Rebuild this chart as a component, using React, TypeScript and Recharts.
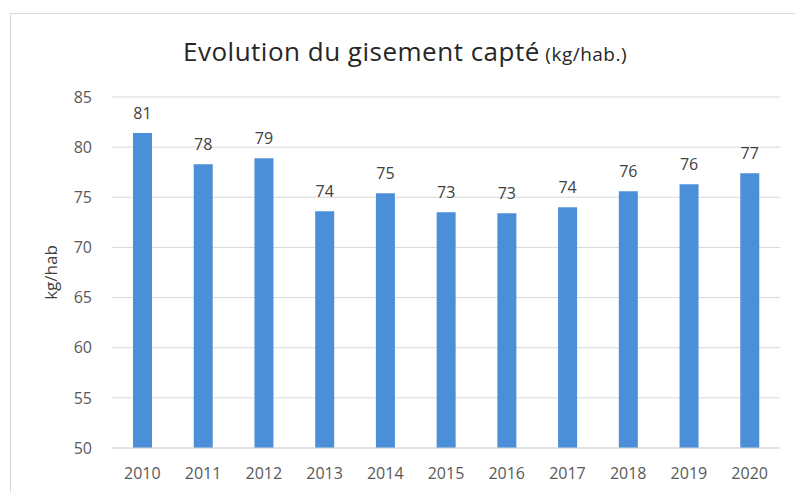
import React from 'react';
import { BarChart, Bar, XAxis, YAxis, CartesianGrid, LabelList } from 'recharts';

const years = ['2010', '2011', '2012', '2013', '2014', '2015', '2016', '2017', '2018', '2019', '2020'];
const values = [81.4, 78.3, 78.9, 73.6, 75.4, 73.5, 73.4, 74.0, 75.6, 76.3, 77.4];
const labels = ['81', '78', '79', '74', '75', '73', '73', '74', '76', '76', '77'];
const yTicks = [50, 55, 60, 65, 70, 75, 80, 85];

const data = years.map((y, i) => ({ year: y, value: values[i], label: labels[i] }));

const FONT = '"Open Sans", "Noto Sans", sans-serif';

export default function App() {
  return (
    <div style={{ position: 'absolute', left: 0, top: 0, width: 795, height: 492, background: '#fff', overflow: 'hidden', fontFamily: FONT }}>
      <div style={{ position: 'absolute', left: 10, top: 13, width: 800, height: 500, borderTop: '1px solid #d9d9d9', borderLeft: '1px solid #d9d9d9' }} />
      <div style={{ position: 'absolute', left: 183, top: 51, color: '#262626', whiteSpace: 'nowrap', lineHeight: 0 }}>
        <span style={{ fontSize: 26, letterSpacing: 0.5 }}>Evolution du gisement capté</span>
        <span style={{ fontSize: 19, letterSpacing: 0.5 }}> (kg/hab.)</span>
      </div>
      <div style={{ position: 'absolute', left: 0, top: 0 }}>
        <BarChart width={795} height={492} data={data} margin={{ top: 97, right: 15, left: 0, bottom: 14 }}>
          <CartesianGrid vertical={false} stroke="#d9d9d9" strokeWidth={1} />
          <XAxis dataKey="year" axisLine={{ stroke: '#d9d9d9' }} tickLine={false} tickMargin={14} height={30}
            tick={{ fill: '#595959', fontSize: 16, fontFamily: FONT }} interval={0} />
          <YAxis domain={[50, 85]} ticks={yTicks} axisLine={false} tickLine={false} tickMargin={14} width={112}
            tick={{ fill: '#595959', fontSize: 16, fontFamily: FONT }}
            label={{ value: 'kg/hab', angle: -90, position: 'insideLeft', offset: 51, fill: '#404040', fontSize: 17, fontFamily: FONT, style: { textAnchor: 'middle' } }} />
          <Bar dataKey="value" fill="#4a8fd8" barSize={19} isAnimationActive={false}>
            <LabelList dataKey="label" position="top" offset={14} fill="#404040" fontSize={16} fontFamily={FONT} />
          </Bar>
        </BarChart>
      </div>
    </div>
  );
}
